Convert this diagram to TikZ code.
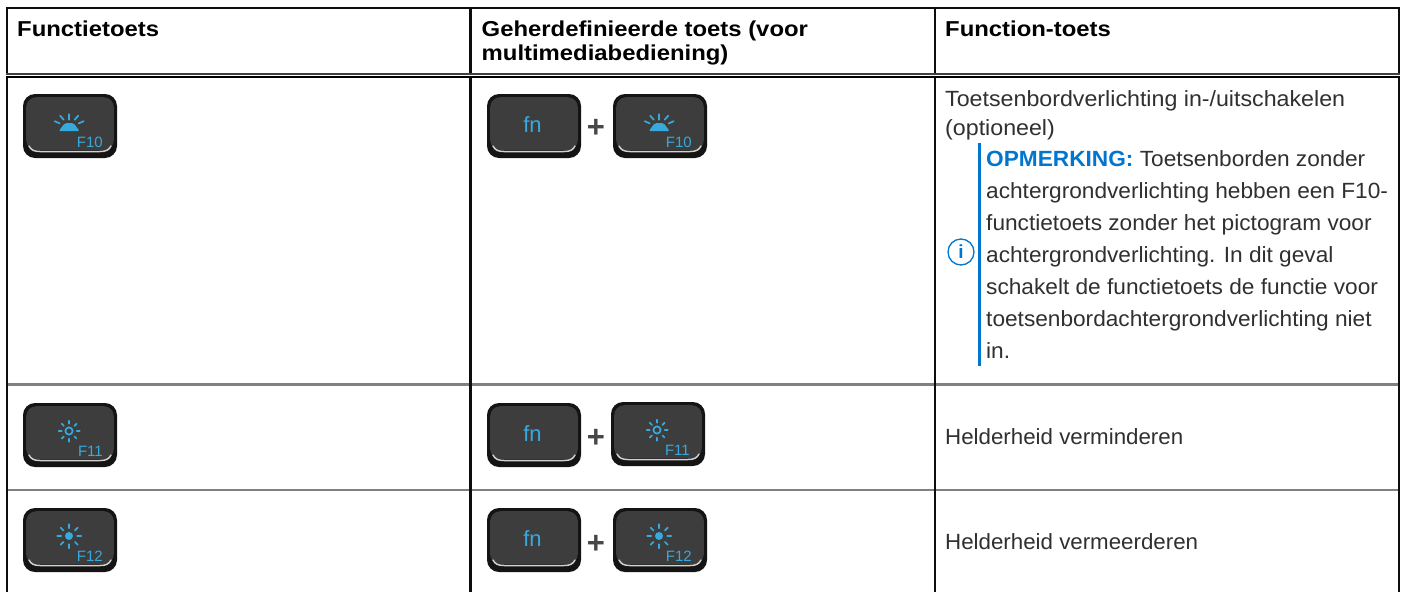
\documentclass[tikz,border=0pt]{standalone}
\usepackage{fontspec}
\usetikzlibrary{calc}
\setmainfont{Liberation Sans}
\newfontfamily\headfont[FakeStretch=1.105]{Liberation Sans}
\newfontfamily\leadfont[FakeStretch=1.055]{Liberation Sans}
\newfontfamily\notefont[FakeStretch=1.03]{Liberation Sans}
\newfontfamily\rowfont[FakeStretch=1.014]{Liberation Sans}
\definecolor{keyblue}{HTML}{38A9DC}
\definecolor{dellblue}{HTML}{0076CE}
\definecolor{txt}{HTML}{303030}
\tikzset{
  plaintext/.style={anchor=base west,inner sep=0pt,text=txt},
  lead/.style={plaintext,font=\leadfont\fontsize{22}{24}\selectfont},
  note/.style={plaintext,font=\notefont\fontsize{22}{24}\selectfont},
  rowtext/.style={plaintext,font=\rowfont\fontsize{22}{24}\selectfont},
  head/.style={anchor=base west,inner sep=0pt,text=black,font=\headfont\fontsize{21.6}{24}\selectfont\bfseries},
  outer/.style={line width=2.6pt,black!95},
  rowrule/.style={line width=2.8pt,black!50},
  keyglyph/.style={line width=1.7pt,keyblue,line cap=round},
  keylabel/.style={anchor=base east,inner sep=0pt,text=keyblue,font=\fontsize{15}{14}\selectfont},
  fnlabel/.style={text=keyblue,inner sep=0pt,font=\fontsize{22}{22}\selectfont},
  plus/.style={inner sep=0pt,text=black!72,font=\fontsize{31}{31}\selectfont\bfseries}
}
% #1 name, #2 x, #3 y (top left)
\newcommand{\keycap}[3]{%
  \fill[black!92,rounded corners=12pt] (#2,#3) rectangle ++(94,64);
  \fill[black!76,rounded corners=10pt] (#2+3.2,#3+3.2) rectangle ++(87.6,53);
  \draw[black!18,line width=1.5pt,line cap=round] (#2+6,#3+52) .. controls (#2+8,#3+56) and (#2+11,#3+57.5) .. (#2+17,#3+57.5) -- (#2+77,#3+57.5) .. controls (#2+83,#3+57.5) and (#2+86,#3+56) .. (#2+88,#3+52);
  \node[minimum width=94pt,minimum height=64pt,inner sep=0pt,anchor=north west] (#1) at (#2,#3) {};
}
\newcommand{\domeicon}[1]{%
  \fill[keyblue,rounded corners=1.5pt] ($(#1)+(-11.5,5)$) -- ($(#1)+(9.5,5)$) -- ($(#1)+(3.5,-3)$) -- ($(#1)+(-5.5,-3)$) -- cycle;
  \draw[keyglyph] ($(#1)+(-1,-12)$) -- ($(#1)+(-1,-6.5)$);
  \draw[keyglyph] ($(#1)+(-10,-10.5)$) -- ($(#1)+(-6.5,-6.5)$);
  \draw[keyglyph] ($(#1)+(8,-10.5)$) -- ($(#1)+(4.5,-6.5)$);
  \draw[keyglyph] ($(#1)+(-15.5,-5)$) -- ($(#1)+(-10.5,-2.8)$);
  \draw[keyglyph] ($(#1)+(13.5,-5)$) -- ($(#1)+(8.5,-2.8)$);
}
\newcommand{\sunicon}[3]{% name, ray start, ray end
  \foreach \a in {0,45,...,315}{\draw[keyglyph] ($(#1)+(-1,-4)+(\a:#2)$) -- ($(#1)+(-1,-4)+(\a:#3)$);}
}
\begin{document}
\begin{tikzpicture}[x=1pt,y=-1pt]
\useasboundingbox (0,0) rectangle (1405,592);
\fill[white] (0,0) rectangle (1405,592);
% table rules
\coordinate (tl) at (7,8); \coordinate (tr) at (1399,8);
\coordinate (bl) at (7,592); \coordinate (br) at (1399,592);
\coordinate (c1t) at (470.7,8); \coordinate (c1b) at (470.7,592);
\coordinate (c2t) at (935,8); \coordinate (c2b) at (935,592);
\draw[rowrule] (7,384.3) -- (1399,384.3);
\draw[rowrule] (7,490) -- (1399,490);
\draw[outer] (bl) -- (tl) -- (tr) -- (br);
\draw[outer] (c1t) -- (c1b);
\draw[outer] (c2t) -- (c2b);
\draw[line width=1.6pt,white] (0,75.8) -- (1405,75.8);
\draw[line width=2.2pt,black!75] (5.7,74) -- (1400.3,74);
\draw[line width=1.2pt,black] (5.7,77) -- (1400.3,77);
% header
\node[head] (h1) at (17,36) {Functietoets};
\node[head] (h2) at (481.5,36) {Geherdefinieerde toets (voor};
\node[head] (h2b) at (481.5,60) {multimediabediening)};
\node[head] (h3) at (945,36) {Function-toets};
% keys row 1
\keycap{a1}{23}{94}
\domeicon{a1}
\node[keylabel] (a1l) at (103,147) {F10};
\keycap{b1}{487}{94}
\node[fnlabel] (b1l) at (532.5,125) {fn};
\node[plus] (p1) at (596,128) {+};
\keycap{c1}{613}{94}
\domeicon{c1}
\node[keylabel] (c1l) at (692,147) {F10};
% keys row 2
\keycap{a2}{23}{403}
\draw[keyglyph] (69,431) circle (3.6);
\sunicon{a2}{7.5}{10.5}
\node[keylabel] (a2l) at (103,456) {F11};
\keycap{b2}{487}{403}
\node[fnlabel] (b2l) at (532.5,434) {fn};
\node[plus] (p2) at (596,438) {+};
\keycap{c2}{611}{402}
\draw[keyglyph] (657,430) circle (3.6);
\sunicon{c2}{7.5}{10.5}
\node[keylabel] (c2l) at (690,455) {F11};
% keys row 3
\keycap{a3}{23}{508}
\fill[keyblue] (69,536) circle (4);
\sunicon{a3}{8}{12}
\node[keylabel] (a3l) at (103,561) {F12};
\keycap{b3}{487}{508}
\node[fnlabel] (b3l) at (532.5,539) {fn};
\node[plus] (p3) at (596,544) {+};
\keycap{c3}{613}{508}
\fill[keyblue] (659,536) circle (4);
\sunicon{c3}{8}{12}
\node[keylabel] (c3l) at (692,561) {F12};
% text column
\node[lead] (t1) at (945,106) {Toetsenbordverlichting in-/uitschakelen};
\node[lead] (t2) at (945,135) {(optioneel)};
\draw[dellblue,line width=3pt] (979,143) -- (979,366);
\node[note] (n1) at (986,166) {\textcolor{dellblue}{\textbf{OPMERKING:}} Toetsenborden zonder};
\node[note] (n2) at (986,198) {achtergrondverlichting hebben een F10-};
\node[note] (n3) at (986,230) {functietoets zonder het pictogram voor};
\node[note] (n4) at (986,262) {achtergrondverlichting. In dit geval};
\node[note] (n5) at (986,294) {schakelt de functietoets de functie voor};
\node[note] (n6) at (986,326) {toetsenbordachtergrondverlichting niet};
\node[note] (n7) at (986,358) {in.};
\draw[dellblue,line width=1.3pt] (961,252) circle (13);
\node[inner sep=0pt,text=dellblue,font=\fontsize{19}{19}\selectfont\bfseries] (info) at (961,252) {i};
\node[rowtext] (t3) at (945,444) {Helderheid verminderen};
\node[rowtext] (t4) at (945,549) {Helderheid vermeerderen};
\end{tikzpicture}
\end{document}
